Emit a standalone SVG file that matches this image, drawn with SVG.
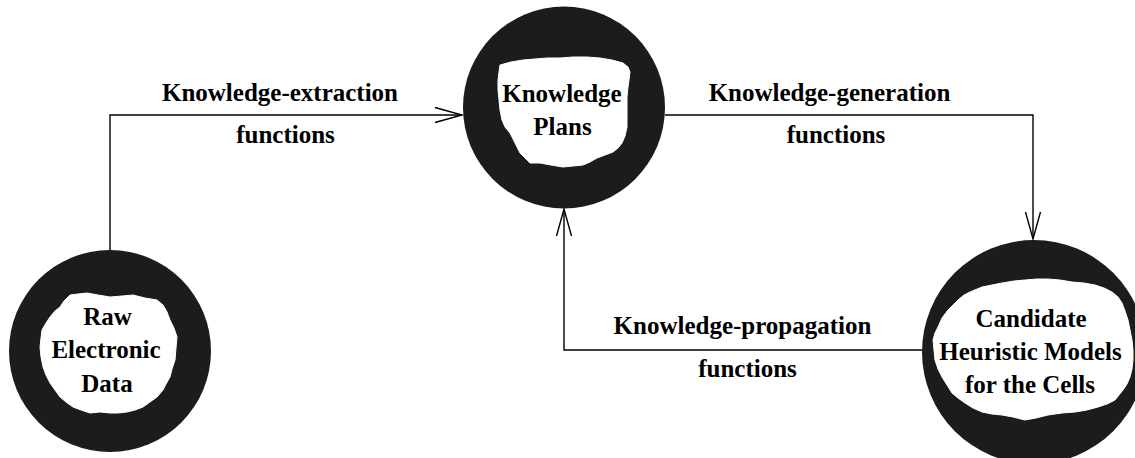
<svg xmlns="http://www.w3.org/2000/svg" width="1135" height="458" viewBox="0 0 1135 458">
<style>
.ring{fill:#1c1c1c}
.blob{fill:#ffffff;stroke:#ffffff;stroke-width:1;stroke-linejoin:round}
.t{font-family:"Liberation Serif","Times New Roman",serif;font-weight:bold;font-size:25px;fill:#000;text-anchor:middle}
.c{fill:none;stroke:#000;stroke-width:1.4}
</style>
<defs>
<marker id="arr" markerUnits="userSpaceOnUse" markerWidth="40" markerHeight="24" refX="0" refY="0" viewBox="-30 -12 32 24" orient="auto" overflow="visible">
<path d="M-27,-7.5 L0,0 L-27,7.5" fill="none" stroke="#000" stroke-width="1.4"/>
</marker>
</defs>
<rect width="1135" height="458" fill="#fff"/>
<g id="connectors">
<path class="c" d="M110,251 L110,115 L462,115" marker-end="url(#arr)"/>
<path class="c" d="M665,115 L1033,115 L1033,239" marker-end="url(#arr)"/>
<path class="c" d="M922,350 L564,350 L564,209" marker-end="url(#arr)"/>
</g>
<g id="node-raw">
<circle class="ring" cx="110" cy="351" r="101"/>
<path class="blob" d="M70,295 L78,294 L87,293 L98,295 L110,297 L122,296 L133,295 L145,298 L157,300 L163,305 L167,312 L170,320 L174,328 L177,337 L176,348 L175,360 L172,369 L170,377 L166,384 L163,390 L157,397 L150,402 L143,407 L135,410 L127,412 L118,413 L110,413 L100,412 L90,413 L81,410 L73,407 L66,402 L60,397 L55,390 L50,383 L46,375 L43,367 L41,357 L40,347 L41,338 L42,330 L46,323 L50,317 L55,311 L60,307 L64,301 Z"/>
<text class="t" x="107.5" y="325">Raw</text>
<text class="t" x="106" y="358">Electronic</text>
<text class="t" x="107" y="392">Data</text>
</g>
<g id="node-plans">
<circle class="ring" cx="564" cy="107.5" r="101"/>
<path class="blob" d="M500,65 L511,62 L523,60 L535,59 L547,58 L560,58 L573,57 L587,57 L600,58 L612,60 L623,63 L628,67 L630,72 L629,80 L628,87 L627,97 L627,107 L627,117 L627,127 L625,136 L622,143 L618,148 L613,152 L605,155 L597,158 L590,162 L583,165 L573,166 L563,167 L551,165 L540,163 L530,163 L525,158 L520,153 L515,143 L510,133 L505,127 L502,120 L500,110 L499,100 L498,90 L498,80 L499,72 Z"/>
<text class="t" x="562" y="102">Knowledge</text>
<text class="t" x="562.5" y="135">Plans</text>
</g>
<g id="node-candidate">
<circle class="ring" cx="1034" cy="352" r="112"/>
<path class="blob" d="M970,292 L982,287 L992,285 L1002,283 L1014,281 L1025,280 L1037,279 L1048,279 L1060,280 L1072,282 L1084,283 L1095,285 L1104,288 L1112,292 L1118,297 L1122,303 L1125,311 L1128,320 L1130,330 L1132,340 L1133,350 L1133,360 L1132,369 L1130,377 L1127,384 L1123,390 L1119,395 L1115,400 L1107,404 L1098,407 L1087,410 L1075,412 L1062,413 L1048,415 L1036,418 L1025,420 L1013,417 L1002,415 L992,414 L982,412 L973,408 L965,403 L958,398 L952,393 L947,385 L942,377 L938,369 L935,360 L934,350 L933,340 L935,333 L938,327 L942,318 L948,310 L953,305 L958,300 L964,295 Z"/>
<text class="t" x="1031" y="326.5">Candidate</text>
<text class="t" x="1030.5" y="360">Heuristic Models</text>
<text class="t" x="1030" y="393">for the Cells</text>
</g>
<g id="labels">
<text class="t" x="280" y="101">Knowledge-extraction</text>
<text class="t" x="285.5" y="143">functions</text>
<text class="t" x="829.5" y="101">Knowledge-generation</text>
<text class="t" x="836" y="143">functions</text>
<text class="t" x="742.5" y="334">Knowledge-propagation</text>
<text class="t" x="747.5" y="377">functions</text>
</g>
</svg>
